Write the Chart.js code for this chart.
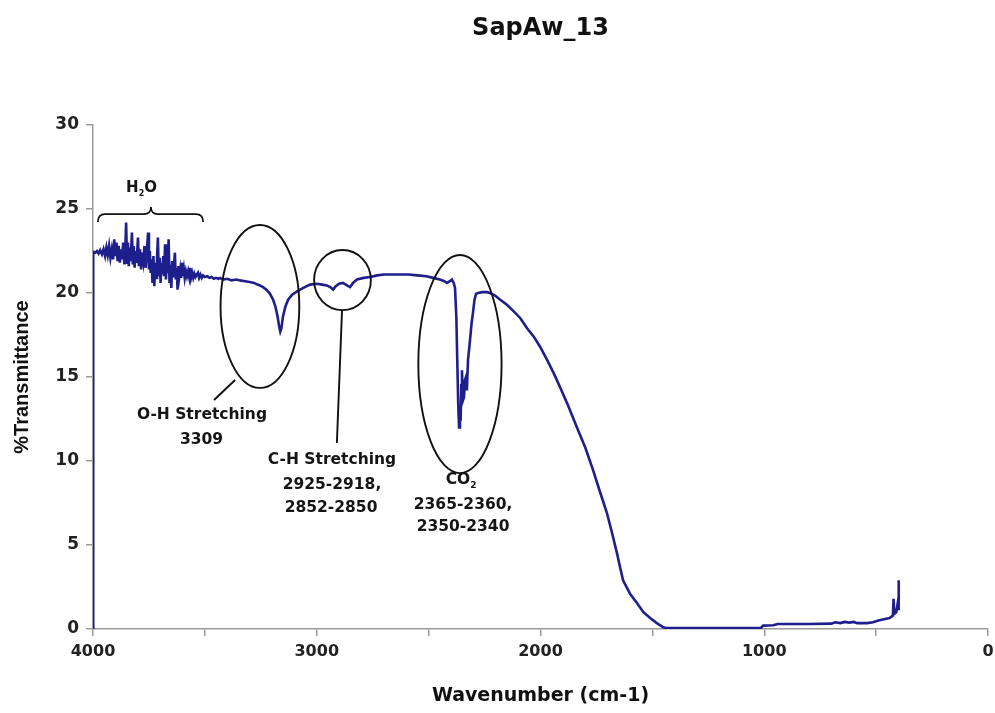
<!DOCTYPE html>
<html lang="en">
<head>
<meta charset="UTF-8">
<title>SapAw_13</title>
<script src="https://cdn.jsdelivr.net/npm/chart.js"></script>
<style>
  html, body { margin: 0; padding: 0; background: #fff; }
  .wrap { width: 995px; height: 713px; position: relative; }
</style>
</head>
<body>
<div class="wrap"><canvas id="ftir"></canvas></div>
<script>
// spectrum: wavenumber (cm-1) and %T, row by row
const wavenumber = [
  4000, 3999, 3990, 3982, 3975, 3968, 3960, 3953, 3946, 3940,
  3934, 3928, 3922, 3916, 3910, 3905, 3900, 3895, 3890, 3885,
  3880, 3875, 3870, 3865, 3860, 3855, 3852, 3848, 3844, 3840,
  3836, 3832, 3826, 3822, 3818, 3814, 3810, 3805, 3799, 3795,
  3790, 3785, 3780, 3775, 3770, 3765, 3760, 3754, 3750, 3746,
  3742, 3738, 3734, 3730, 3726, 3722, 3718, 3714, 3710, 3706,
  3702, 3698, 3694, 3690, 3686, 3682, 3678, 3674, 3670, 3666,
  3662, 3658, 3654, 3650, 3646, 3642, 3638, 3634, 3630, 3626,
  3622, 3618, 3614, 3610, 3606, 3602, 3598, 3594, 3590, 3585,
  3580, 3575, 3570, 3566, 3562, 3557, 3552, 3547, 3542, 3536,
  3531, 3526, 3520, 3514, 3508, 3500, 3490, 3480, 3470, 3460,
  3450, 3440, 3432, 3420, 3400, 3380, 3360, 3343, 3320, 3300,
  3280, 3265, 3254, 3240, 3225, 3209, 3195, 3185, 3175, 3168,
  3163, 3158, 3151, 3140, 3128, 3110, 3088, 3060, 3030, 3000,
  2975, 2955, 2940, 2927, 2915, 2900, 2883, 2865, 2851, 2838,
  2820, 2790, 2762, 2730, 2700, 2660, 2628, 2590, 2550, 2510,
  2480, 2450, 2430, 2418, 2405, 2396, 2388, 2382, 2376, 2372,
  2368, 2364, 2360, 2357, 2354, 2351, 2347, 2342, 2338, 2333,
  2329, 2324, 2315, 2308, 2302, 2295, 2288, 2280, 2260, 2239,
  2226, 2203, 2180, 2150, 2123, 2090, 2060, 2030, 2002, 1970,
  1940, 1913, 1880, 1837, 1800, 1765, 1735, 1703, 1680, 1658,
  1645, 1631, 1600, 1569, 1540, 1510, 1480, 1453, 1440, 1300,
  1100, 1015, 1005, 960, 940, 800, 700, 683, 660, 640,
  620, 600, 585, 540, 514, 490, 460, 440, 425, 422,
  419, 410, 404, 401, 399
];
const transmittance = [
  0, 22.45, 22.4, 22.5, 22.35, 22.55, 22.3, 22.6, 22.2, 22.7,
  22.25, 22.8, 22.1, 22.6, 22.0, 23.2, 22.2, 23.0, 21.9, 22.8,
  21.8, 22.6, 22.0, 23.0, 21.7, 22.9, 24.2, 21.8, 23.0, 21.6,
  22.7, 21.9, 23.6, 21.7, 22.8, 21.5, 22.5, 21.8, 23.3, 21.6,
  22.6, 21.4, 22.4, 21.9, 22.8, 21.5, 22.3, 23.6, 21.4, 22.5,
  21.2, 22.0, 20.6, 22.2, 20.4, 21.8, 20.9, 22.0, 23.3, 21.0,
  22.1, 20.6, 21.8, 21.1, 22.2, 21.0, 22.9, 20.8, 21.9, 21.2,
  23.2, 20.6, 21.7, 20.3, 21.9, 21.0, 21.6, 22.4, 20.8, 21.5,
  20.2, 21.6, 21.0, 21.4, 20.9, 21.8, 21.0, 21.4, 20.9, 21.3,
  21.0, 21.3, 20.95, 21.5, 20.9, 21.2, 20.9, 21.15, 20.95, 21.1,
  21.2, 20.9, 21.1, 20.9, 21.05, 20.95, 21.0, 20.9, 20.95, 20.85,
  20.9, 20.85, 20.9, 20.8, 20.85, 20.75, 20.8, 20.75, 20.7, 20.65,
  20.6, 20.5, 20.45, 20.35, 20.2, 19.95, 19.6, 19.2, 18.6, 18.0,
  17.7, 17.9, 18.6, 19.2, 19.6, 19.9, 20.1, 20.3, 20.5, 20.55,
  20.5, 20.45, 20.35, 20.2, 20.4, 20.55, 20.6, 20.45, 20.35, 20.6,
  20.8, 20.9, 20.95, 21.05, 21.1, 21.1, 21.1, 21.1, 21.05, 21.0,
  20.9, 20.8, 20.7, 20.6, 20.7, 20.8, 20.6, 20.3, 18.5, 16.0,
  13.5, 12.0, 13.0, 12.4, 14.5, 15.4, 13.6, 13.8, 14.8, 15.0,
  14.2, 16.0, 17.2, 18.2, 18.8, 19.6, 19.95, 20.0, 20.05, 20.05,
  20.0, 19.85, 19.6, 19.3, 18.95, 18.5, 17.9, 17.4, 16.8, 16.0,
  15.2, 14.4, 13.4, 12.0, 10.8, 9.46, 8.2, 6.9, 5.7, 4.5,
  3.7, 2.9, 2.1, 1.55, 1.0, 0.65, 0.35, 0.12, 0.05, 0.05,
  0.05, 0.06, 0.2, 0.22, 0.3, 0.3, 0.32, 0.4, 0.35, 0.42,
  0.38, 0.42, 0.35, 0.35, 0.4, 0.5, 0.6, 0.65, 0.8, 1.8,
  0.9, 1.0, 1.5, 1.2, 2.9
];

const xTickLabels = [4000, 3000, 2000, 1000, 0];
const chartTitle = 'SapAw_13';

// annotation marks, in data units (wavenumber, %T)
const ellipses = [
  { cx: 3254, cy: 19.2, rx: 176, ry: 4.85 },   // O-H
  { cx: 2885, cy: 20.77, rx: 127, ry: 1.79 },  // C-H
  { cx: 2360, cy: 15.77, rx: 186, ry: 6.49 }   // CO2
];
const leaders = [
  { x1: 3365, y1: 14.82, x2: 3459, y2: 13.63 },
  { x1: 2887, y1: 18.99, x2: 2910, y2: 11.07 }
];
const brace = { from: 3978, to: 3508, tip: 3741, base: 24.23, bar: 24.7, peak: 25.12 };
const notes = [
  { x: 3783, y: 26.25, text: 'H', sub: '2', after: 'O', size: 15 },
  { x: 3513, y: 12.74, text: 'O-H Stretching' },
  { x: 3515, y: 11.25, text: '3309' },
  { x: 2932, y: 10.06, text: 'C-H Stretching' },
  { x: 2932, y: 8.57, text: '2925-2918,' },
  { x: 2936, y: 7.2, text: '2852-2850' },
  { x: 2355, y: 8.87, text: 'CO', sub: '2', after: '' },
  { x: 2346, y: 7.38, text: '2365-2360,' },
  { x: 2346, y: 6.07, text: '2350-2340' }
];

const FONT = '"DejaVu Sans", sans-serif';

const notesPlugin = {
  id: 'ftirNotes',
  afterDatasetsDraw(chart) {
    const { ctx, chartArea } = chart;
    const x = chart.scales.x, y = chart.scales.y;
    ctx.save();
    ctx.strokeStyle = '#111';
    ctx.lineWidth = 1.9;

    ellipses.forEach(e => {
      const cx = x.getPixelForValue(e.cx), cy = y.getPixelForValue(e.cy);
      const rx = Math.abs(x.getPixelForValue(e.cx + e.rx) - cx);
      const ry = Math.abs(y.getPixelForValue(e.cy + e.ry) - cy);
      ctx.beginPath();
      ctx.ellipse(cx, cy, rx, ry, 0, 0, Math.PI * 2);
      ctx.stroke();
    });

    leaders.forEach(l => {
      ctx.beginPath();
      ctx.moveTo(x.getPixelForValue(l.x1), y.getPixelForValue(l.y1));
      ctx.lineTo(x.getPixelForValue(l.x2), y.getPixelForValue(l.y2));
      ctx.stroke();
    });

    // curly brace over the water region
    const bx1 = x.getPixelForValue(brace.from), bx2 = x.getPixelForValue(brace.to);
    const bm = x.getPixelForValue(brace.tip);
    const yb = y.getPixelForValue(brace.base), yt = y.getPixelForValue(brace.bar);
    const yp = y.getPixelForValue(brace.peak);
    const r = 7;
    ctx.lineWidth = 1.7;
    ctx.beginPath();
    ctx.moveTo(bx1, yb);
    ctx.quadraticCurveTo(bx1, yt, bx1 + r, yt);
    ctx.lineTo(bm - r, yt);
    ctx.quadraticCurveTo(bm, yt, bm, yp);
    ctx.quadraticCurveTo(bm, yt, bm + r, yt);
    ctx.lineTo(bx2 - r, yt);
    ctx.quadraticCurveTo(bx2, yt, bx2, yb);
    ctx.stroke();

    // labels
    ctx.fillStyle = '#151515';
    ctx.textBaseline = 'middle';
    notes.forEach(n => {
      const size = n.size || 15.5;
      const px = x.getPixelForValue(n.x), py = y.getPixelForValue(n.y);
      const main = 'bold ' + size + 'px ' + FONT;
      const small = 'bold ' + Math.round(size * 0.55) + 'px ' + FONT;
      ctx.font = main;
      const w1 = ctx.measureText(n.text).width;
      const w3 = n.after ? ctx.measureText(n.after).width : 0;
      ctx.font = small;
      const w2 = n.sub ? ctx.measureText(n.sub).width : 0;
      let sx = px - (w1 + w2 + w3) / 2;
      ctx.textAlign = 'left';
      ctx.font = main;
      ctx.fillText(n.text, sx, py);
      if (n.sub) {
        ctx.font = small;
        ctx.fillText(n.sub, sx + w1, py + size * 0.38);
        ctx.font = main;
        if (n.after) ctx.fillText(n.after, sx + w1 + w2, py);
      }
    });

    // title centred over the plot area
    ctx.font = 'bold 24px ' + FONT;
    ctx.textAlign = 'center';
    ctx.fillStyle = '#111';
    ctx.fillText(chartTitle, (chartArea.left + chartArea.right) / 2, 29);
    ctx.restore();
  }
};

const points = wavenumber.map((w, i) => ({ x: w, y: transmittance[i] }));

new Chart(document.getElementById('ftir'), {
  type: 'scatter',
  data: {
    datasets: [{
      label: 'SapAw_13',
      data: points,
      showLine: true,
      borderColor: '#1e1e8c',
      borderWidth: 2.6,
      pointRadius: 0,
      tension: 0
    }]
  },
  options: {
    responsive: true,
    maintainAspectRatio: false,
    animation: false,
    layout: { padding: { top: 125, right: 7, left: 0, bottom: 0 } },
    plugins: {
      legend: { display: false },
      tooltip: { enabled: false }
    },
    scales: {
      x: {
        type: 'linear',
        reverse: true,
        min: 0,
        max: 4000,
        afterFit: s => { s.height = 84; s.paddingRight = 0; s.paddingLeft = 0; },
        border: { color: '#9a9a9a', width: 1.5 },
        grid: { drawOnChartArea: false, tickLength: 7, color: '#9a9a9a', lineWidth: 1.5 },
        ticks: {
          stepSize: 500,
          autoSkip: false,
          maxRotation: 0,
          padding: 6,
          color: '#222',
          font: { family: FONT, size: 16, weight: 'bold' },
          callback: v => xTickLabels.includes(v) ? String(v) : ''
        },
        title: {
          display: true,
          text: 'Wavenumber (cm-1)',
          color: '#111',
          font: { family: FONT, size: 19, weight: 'bold' },
          padding: { top: 0, bottom: 6 }
        }
      },
      y: {
        min: 0,
        max: 30,
        afterFit: s => { s.width = 93; },
        border: { color: '#9a9a9a', width: 1.5 },
        grid: { drawOnChartArea: false, tickLength: 7, color: '#9a9a9a', lineWidth: 1.5 },
        ticks: {
          stepSize: 5,
          padding: 7,
          color: '#222',
          font: { family: FONT, size: 17, weight: 'bold' }
        },
        title: {
          display: true,
          text: '%Transmittance',
          color: '#111',
          font: { family: '"Liberation Sans", Arial, sans-serif', size: 20, weight: 'bold' },
          padding: { top: 10, bottom: 0 }
        }
      }
    }
  },
  plugins: [notesPlugin]
});
</script>
</body>
</html>
